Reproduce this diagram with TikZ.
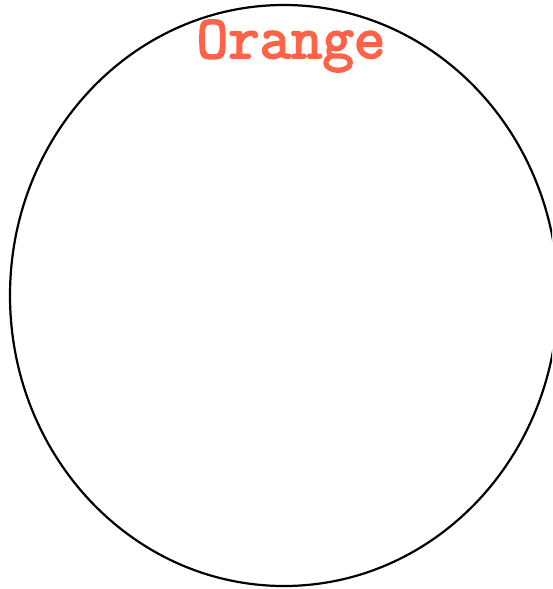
\documentclass[tikz,border=0pt]{standalone}
\usepackage{fontspec}
\newfontfamily\typefont[FakeBold=3]{Latin Modern Mono}
\definecolor{tomato}{HTML}{FF6347}
\begin{document}
\begin{tikzpicture}[x=1pt,y=-1pt]
\useasboundingbox (0,0) rectangle (552,589);
\begin{scope}
\clip (0,0) rectangle (552,589);
\draw[line width=2.2pt] (284,295.5) ellipse [x radius=274, y radius=290.5];
\end{scope}
\node[text=tomato, font=\typefont\fontsize{61}{66}\selectfont, anchor=base, inner sep=0pt] (title) at (291,58) {Orange};
\end{tikzpicture}
\end{document}
